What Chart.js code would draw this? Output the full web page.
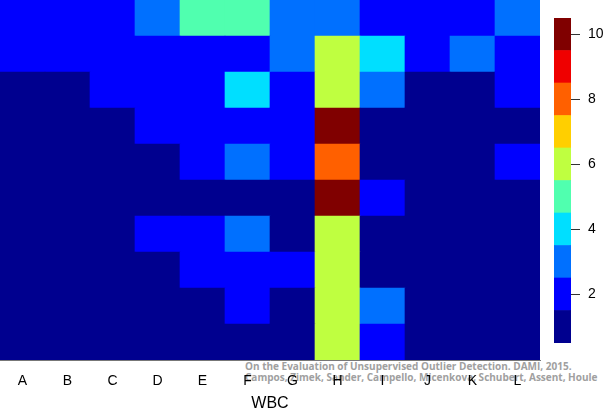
<!DOCTYPE html>
<html>
<head>
<meta charset="utf-8">
<script src="https://cdn.jsdelivr.net/npm/chart.js@4.4.1/dist/chart.umd.min.js"></script>
<style>
  body { margin: 0; background: #fff; }
  #wrap { position: relative; width: 605px; height: 413px; }
  #heat { position: absolute; left: 0; top: 0; z-index: 2; }
  #bar { position: absolute; left: 548px; top: 0; z-index: 2; }
  #note {
    position: absolute; left: 245px; top: 361px; z-index: 1;
    font-family: "Open Sans", sans-serif; font-weight: bold; font-size: 10px;
    line-height: 11px; color: #a0a0a0; white-space: nowrap;
  }
</style>
</head>
<body>
<div id="wrap">
  <div id="note">On the Evaluation of Unsupervised Outlier Detection. DAMI, 2015.<br>Campos, Zimek, Sander, Campello, Micenkova, Schubert, Assent, Houle</div>
  <canvas id="heat" width="605" height="413"></canvas>
  <canvas id="bar" width="57" height="413"></canvas>
</div>
<script>
// 데이터
const columns = ['A', 'B', 'C', 'D', 'E', 'F', 'G', 'H', 'I', 'J', 'K', 'L'];
// 위에서 아래로 (첫 줄 = 맨 위 행)
const rows = [
    [2, 2, 2, 3, 5, 5, 3, 3, 2, 2, 2, 3],
    [2, 2, 2, 2, 2, 2, 3, 6, 4, 2, 3, 2],
    [1, 1, 2, 2, 2, 4, 2, 6, 3, 1, 1, 2],
    [1, 1, 1, 2, 2, 2, 2, 10, 1, 1, 1, 1],
    [1, 1, 1, 1, 2, 3, 2, 8, 1, 1, 1, 2],
    [1, 1, 1, 1, 1, 1, 1, 10, 2, 1, 1, 1],
    [1, 1, 1, 2, 2, 3, 1, 6, 1, 1, 1, 1],
    [1, 1, 1, 1, 2, 2, 2, 6, 1, 1, 1, 1],
    [1, 1, 1, 1, 1, 2, 1, 6, 3, 1, 1, 1],
    [1, 1, 1, 1, 1, 1, 1, 6, 2, 1, 1, 1]
];
const levels = [1, 2, 3, 4, 5, 6, 7, 8, 9, 10];
const palette = ['#00008F', '#0000FF', '#0070FF', '#00DFFF', '#50FFAF',
                 '#BFFF40', '#FFCF00', '#FF6000', '#EF0000', '#800000'];
const colorTicks = [2, 4, 6, 8, 10];

const labelFont = { family: 'Liberation Sans, Arial, sans-serif', size: 14 };

// 히트맵: 한 행 = 한 데이터셋 (아래 행부터 쌓기)
const heatSets = rows.slice().reverse().map((row, i) => ({
    label: 'row ' + (rows.length - i),
    data: row.map(() => 1),
    backgroundColor: row.map(v => palette[v - 1]),
    borderWidth: 0,
    barPercentage: 1,
    categoryPercentage: 1
}));

new Chart(document.getElementById('heat'), {
    type: 'bar',
    data: { labels: columns, datasets: heatSets },
    options: {
        responsive: false,
        animation: false,
        layout: { padding: { left: 0, top: 0, right: 65, bottom: 0 } },
        plugins: { legend: { display: false }, tooltip: { enabled: false } },
        scales: {
            x: {
                stacked: true,
                grid: { display: false, drawTicks: false },
                border: { display: true, color: '#777', width: 1 },
                ticks: { color: '#000', font: labelFont, padding: 13 },
                title: { display: true, text: 'WBC', color: '#000',
                         font: { family: 'Liberation Sans, Arial, sans-serif', size: 16 },
                         padding: { top: 0, bottom: 0 } },
                afterFit: s => { s.height = 53; }
            },
            y: { stacked: true, display: false, min: 0, max: rows.length }
        }
    }
});

// 컬러바
const barSets = levels.map((lv, i) => ({
    data: [[lv - 0.5, lv + 0.5]],
    backgroundColor: palette[i],
    borderWidth: 0,
    barPercentage: 1,
    categoryPercentage: 1
}));
barSets.push({
    data: [[levels[0] - 0.5, levels[levels.length - 1] + 0.5]],
    backgroundColor: 'rgba(0,0,0,0)',
    borderColor: '#333',
    borderWidth: 1,
    borderSkipped: false,
    barPercentage: 1,
    categoryPercentage: 1
});

new Chart(document.getElementById('bar'), {
    type: 'bar',
    data: { labels: [''], datasets: barSets },
    options: {
        responsive: false,
        animation: false,
        grouped: false,
        layout: { padding: { left: 6, top: 18, right: 0, bottom: 70 } },
        plugins: { legend: { display: false }, tooltip: { enabled: false } },
        scales: {
            x: { display: false },
            y: {
                position: 'right',
                min: 0.5, max: 10.5,
                afterBuildTicks: s => { s.ticks = colorTicks.map(v => ({ value: v })); },
                grid: { drawOnChartArea: false, drawTicks: true, tickLength: 9, color: '#333' },
                border: { display: false },
                ticks: { color: '#000', font: labelFont, padding: 8 },
                afterFit: s => { s.width = 34; }
            }
        }
    }
});
</script>
</body>
</html>
